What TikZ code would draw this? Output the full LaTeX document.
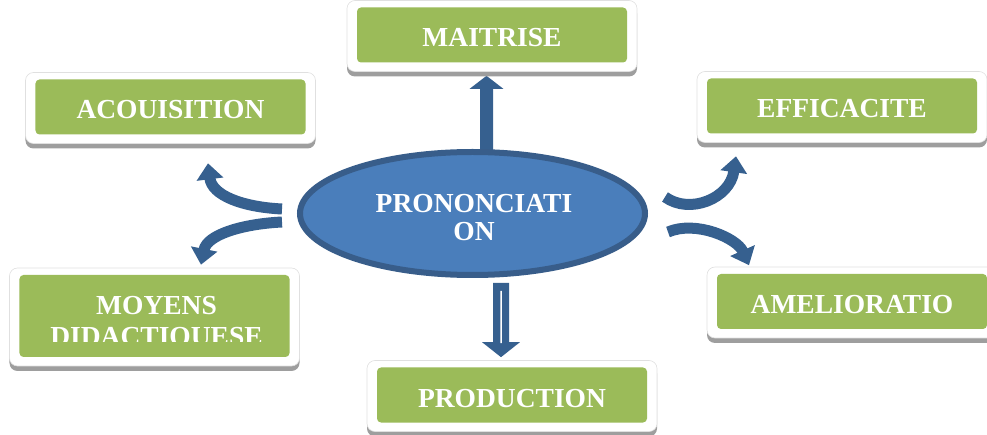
\documentclass[tikz,border=0pt]{standalone}
\usepackage{fontspec}
\setmainfont{Liberation Serif}
\usetikzlibrary{shapes.geometric,shadows,arrows.meta,calc}
\definecolor{boxgreen}{HTML}{9BBB59}
\definecolor{ellfill}{HTML}{4A7EBB}
\definecolor{ellline}{HTML}{385D8A}
\definecolor{arrblue}{HTML}{36608F}
\pgfdeclarelayer{background}
\pgfsetlayers{background,main}
\begin{document}
\begin{tikzpicture}[x=1bp,y=-1bp,
  frame/.style={rounded corners=8bp, fill=white, draw=black!12, line width=0.6bp,
    minimum width=290bp, minimum height=71bp, inner sep=0pt,
    drop shadow={shadow xshift=0bp, shadow yshift=-5bp, fill=black!38, opacity=1}},
  txt/.style={text=white, font=\bfseries\fontsize{27.6}{29}\selectfont, inner sep=0pt},
  gbox/.style={txt, rounded corners=4bp, fill=boxgreen, minimum width=270bp,
    minimum height=55bp, text height=24bp, text depth=0pt},
  curvarr/.style={draw=arrblue, line width=11bp, -{Triangle[width=26bp,length=16bp]}},
  straightarr/.style={draw=arrblue}
]
\useasboundingbox (0,0) rectangle (987,435);

% boxes
\node[frame] (maitF) at (492,36) {};
\node[gbox] (mait) at (492,35) {MAITRISE};
\node[frame] (acqF) at (170.5,108) {};
\node[gbox] (acq) at (170.5,107) {ACOUISITION};
\node[frame] (effF) at (842,107) {};
\node[gbox] (eff) at (842,106) {EFFICACITE};
\node[frame] (amelF) at (852,302.5) {};
\node[gbox] (amel) at (852,301.5) {AMELIORATIO};
\node[frame] (prodF) at (512,396) {};
\node[gbox] (prod) at (512,395) {PRODUCTION};
\node[frame, minimum height=98bp] (moyF) at (154.5,317) {};
\node[gbox, minimum height=82bp] (moy) at (154.5,316) {};
\begin{scope}
  \clip (moy.north west) rectangle ($(moy.south east)+(0,-16)$);
  \node[txt, anchor=base] (moyA) at (156.5,315) {MOYENS};
  \node[txt, anchor=base] (moyB) at (156.5,346) {DIDACTIQUESE};
\end{scope}

% central ellipse
\node[ellipse, draw=ellline, line width=6bp, fill=ellfill, minimum width=345bp,
  minimum height=123bp, inner sep=0pt] (pron) at (472.5,213.5) {};
\node[txt, align=center] (pronT) at ($(pron.center)+(1.5,4)$) {PRONONCIATI\\ON};

\begin{pgfonlayer}{background}
  % straight arrows
  \draw[straightarr, line width=13bp, -{Triangle[width=33bp,length=13bp]}]
    ($(pron.north)+(14,6)$) -- ($(maitF.south)+(-5.5,4)$);
  \draw[straightarr, line width=16bp, -{Triangle[width=37bp,length=15bp]}]
    ($(pron.south)+(28.5,5)$) -- ($(prodF.north)+(-11,-3)$);
  \draw[white, line width=1.5bp]
    ($(pron.south)+(28.5,13)$) -- ($(prodF.north)+(-11,-17)$);
  % curved arrows
  \draw[curvarr] ($(pron.west)+(-15,-4.5)$) .. controls +(-40,-2) and +(4,32) .. ($(acqF.south)+(37.5,19.5)$);
  \draw[curvarr] ($(pron.west)+(-15,8.5)$) .. controls +(-40,2) and +(6,-30) .. ($(moyF.north)+(46.5,-3)$);
  \draw[curvarr] ($(pron.east)+(17,-16.5)$) .. controls +(25,18) and +(-6,42) .. ($(effF.south)+(-106,13.5)$);
  \draw[curvarr] ($(pron.east)+(20,18.5)$) .. controls +(28,-12) and +(-12,-27) .. ($(amelF.north)+(-103,-1.5)$);
\end{pgfonlayer}
\end{tikzpicture}
\end{document}
